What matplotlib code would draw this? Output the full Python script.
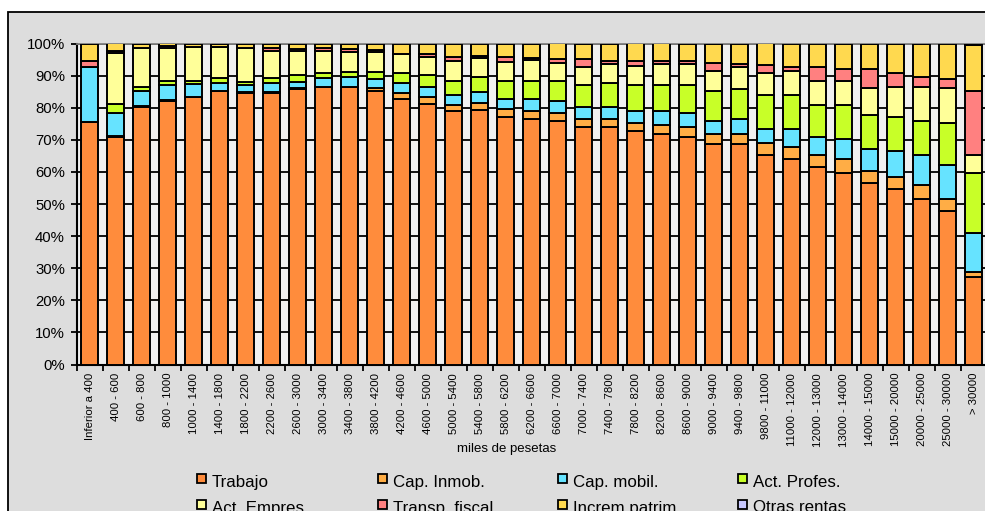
import matplotlib
matplotlib.use("Agg")
import matplotlib.pyplot as plt
from matplotlib.patches import Rectangle
import numpy as np

plt.rcParams['font.family'] = ['Liberation Sans', 'DejaVu Sans']

categories = ["Inferior a 400", "400 - 600", "600 - 800", "800 - 1000", "1000 - 1400",
              "1400 - 1800", "1800 - 2200", "2200 - 2600", "2600 - 3000", "3000 - 3400",
              "3400 - 3800", "3800 - 4200", "4200 - 4600", "4600 - 5000", "5000 - 5400",
              "5400 - 5800", "5800 - 6200", "6200 - 6600", "6600 - 7000", "7000 - 7400",
              "7400 - 7800", "7800 - 8200", "8200 - 8600", "8600 - 9000", "9000 - 9400",
              "9400 - 9800", "9800 - 11000", "11000 - 12000", "12000 - 13000", "13000 - 14000",
              "14000 - 15000", "15000 - 20000", "20000 - 25000", "25000 - 30000", "> 30000"]

trabajo = [75.5, 71.0, 80.3, 82.2, 83.3, 85.2, 84.6, 84.6, 85.8, 86.3,
           86.3, 85.2, 82.7, 81.1, 79.1, 79.3, 77.2, 76.5, 75.9, 74.1,
           74.1, 72.7, 71.7, 71.0, 68.6, 68.6, 65.2, 64.0, 61.6, 59.8,
           56.6, 54.7, 51.6, 47.9, 27.2]
cap_inmob = [0.0, 0.2, 0.2, 0.2, 0.1, 0.1, 0.2, 0.4, 0.2, 0.3,
             0.3, 1.0, 1.8, 2.3, 1.7, 2.1, 2.4, 2.5, 2.4, 2.4,
             2.4, 2.4, 2.9, 3.0, 3.1, 3.1, 3.7, 3.7, 3.7, 4.2,
             3.7, 3.6, 4.3, 3.7, 1.7]
cap_mobil = [17.3, 7.2, 4.7, 4.7, 3.9, 2.3, 2.3, 2.8, 2.1, 2.6,
             2.9, 2.6, 3.3, 3.1, 3.2, 3.4, 3.0, 3.7, 3.8, 3.8,
             3.8, 3.9, 4.4, 4.3, 4.2, 4.8, 4.5, 5.7, 5.7, 6.2,
             6.8, 8.2, 9.3, 10.5, 12.0]
act_profes = [0.0, 2.8, 1.3, 1.2, 1.0, 1.6, 1.0, 1.4, 2.1, 1.7,
              1.7, 2.4, 2.9, 3.7, 4.3, 4.9, 5.7, 5.6, 6.2, 6.8,
              7.5, 8.1, 8.1, 8.8, 9.3, 9.3, 10.6, 10.6, 9.8, 10.6,
              10.6, 10.5, 10.7, 13.2, 18.7]
act_empres = [0.0, 15.9, 12.0, 10.2, 10.5, 9.6, 10.4, 8.6, 7.5, 6.9,
              6.2, 6.1, 5.9, 5.7, 6.3, 5.7, 5.8, 6.6, 5.7, 5.7,
              5.7, 5.9, 6.4, 6.4, 6.3, 7.0, 6.9, 7.5, 7.6, 7.6,
              8.3, 9.5, 10.6, 10.7, 5.7]
transp_fiscal = [1.7, 0.7, 0.1, 0.6, 0.1, 0.1, 0.1, 0.8, 0.7, 0.7,
                 0.8, 0.7, 0.1, 0.8, 1.3, 0.8, 1.6, 0.7, 1.2, 2.4,
                 1.0, 1.5, 1.0, 1.0, 2.3, 0.8, 2.4, 1.3, 4.4, 3.7,
                 6.1, 4.4, 3.2, 2.9, 19.9]
increm_patrim = [5.5, 2.2, 1.4, 0.9, 1.1, 1.1, 1.4, 1.4, 1.6, 1.5,
                 1.8, 2.0, 3.3, 3.3, 4.1, 3.8, 4.3, 4.4, 4.8, 4.8,
                 5.5, 5.5, 5.5, 5.5, 6.2, 6.4, 6.7, 7.2, 7.2, 7.9,
                 7.9, 9.1, 10.3, 11.1, 14.3]
otras_rentas = [0.0] * 34 + [0.5]

series_names = ["Trabajo", "Cap. Inmob.", "Cap. mobil.", "Act. Profes.",
                "Act. Empres.", "Transp. fiscal", "Increm patrim", "Otras rentas"]
series_values = [trabajo, cap_inmob, cap_mobil, act_profes,
                 act_empres, transp_fiscal, increm_patrim, otras_rentas]
colors = ["#FF8C3C", "#FFAD45", "#66E3FF", "#C8FF28",
          "#FFFF99", "#FF8080", "#FFD94F", "#C8C8FF"]

W, H = 985, 511
fig = plt.figure(figsize=(W / 100, H / 100), dpi=100, facecolor="white")

# chart area with border (cropped at right/bottom)
bg = Rectangle((8 / W, -0.2), 1.2, (H - 12) / H + 0.2,
               transform=fig.transFigure, facecolor="#DDDDDD",
               edgecolor="black", linewidth=1.3, zorder=-10)
fig.patches.append(bg)

left_px, right_px, top_px, bot_px = 76.7, 986.7, 43.5, 364.5
ax = fig.add_axes([left_px / W, (H - bot_px) / H, (right_px - left_px) / W, (bot_px - top_px) / H])
ax.set_zorder(1)
ax.set_facecolor("#F0F0F0")

n = len(categories)
x = np.arange(n)
bottom = np.zeros(n)
for name, vals, c in zip(series_names, series_values, colors):
    v = np.array(vals)
    ax.bar(x, v, bottom=bottom, width=0.65, color=c, edgecolor="black",
           linewidth=1.4, zorder=3, label=name)
    bottom += v

ax.set_xlim(-0.5, n - 0.5)
ax.set_ylim(0, 100)
ax.set_yticks(np.arange(0, 101, 10))
ax.set_yticklabels([f"{v}%" for v in range(0, 101, 10)], fontsize=10.7)
ax.yaxis.grid(True, color="black", linewidth=1.3, zorder=1)
ax.set_axisbelow(True)
ax.tick_params(axis="y", length=4, width=1.3, pad=4.5, colors="black")

ax.set_xticks(x)
ax.set_xticklabels(categories, rotation=90, fontsize=8.2, va="top", ha="center")
ax.set_xticks(np.arange(-0.5, n, 1), minor=True)
ax.tick_params(axis="x", which="major", length=0, pad=6)
ax.tick_params(axis="x", which="minor", length=4, width=1.3, direction="out")

for s in ["left", "bottom"]:
    ax.spines[s].set_color("black")
    ax.spines[s].set_linewidth(1.5)
ax.spines["top"].set_color("#808080")
ax.spines["top"].set_linewidth(1.3)
ax.spines["right"].set_visible(False)

fig.text(507 / W, (H - 449) / H, "miles de pesetas", ha="center", va="center", fontsize=9.5)

# legend (manual, equal column spacing)
col_x = [197, 378, 558, 738]
row_y = [478.8, 504.5]
for i, (name, c) in enumerate(zip(series_names, colors)):
    cx = col_x[i % 4]
    cy = row_y[i // 4]
    fig.patches.append(Rectangle((cx / W, (H - (cy + 4.5)) / H), 9 / W, 9 / H,
                                 transform=fig.transFigure, facecolor=c,
                                 edgecolor="black", linewidth=1.3, zorder=5))
    fig.text((cx + 15) / W, (H - (cy + 8)) / H, name, ha="left", va="baseline", fontsize=12.2)

fig.savefig("out.png", dpi=100, facecolor="white")
